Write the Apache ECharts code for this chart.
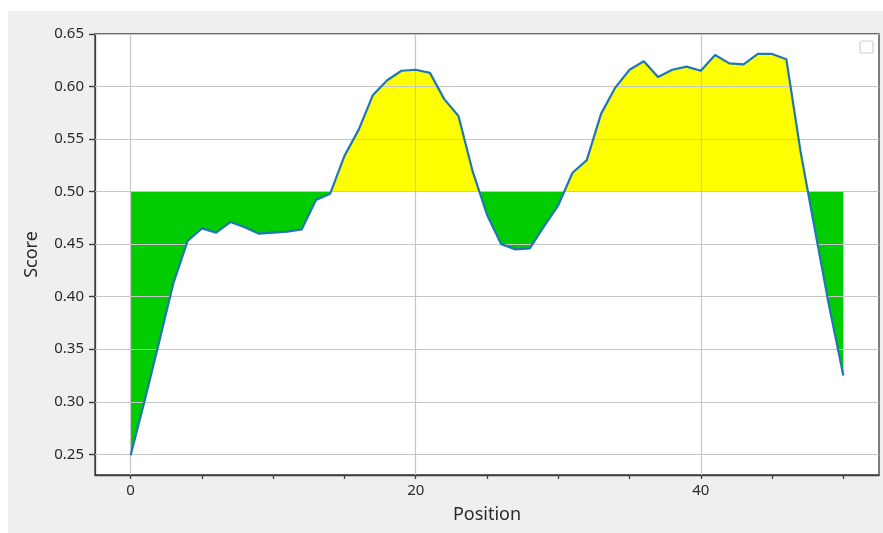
<!DOCTYPE html>
<html>
<head>
<meta charset="utf-8">
<script src="https://cdn.jsdelivr.net/npm/echarts@6/dist/echarts.min.js"></script>
<style>
  html, body { margin: 0; padding: 0; background: #ffffff; }
  #panel { position: absolute; left: 8px; top: 11px; width: 875px; height: 522px; background: #efefef; }
  #chart { position: absolute; left: 0; top: 0; width: 883px; height: 533px; }
</style>
</head>
<body>
<div id="panel"></div>
<div id="chart"></div>
<script>
// Score per sequence position
const positions = [
  0, 1, 2, 3, 4, 5, 6, 7, 8, 9,
  10, 11, 12, 13, 14, 15, 16, 17, 18, 19,
  20, 21, 22, 23, 24, 25, 26, 27, 28, 29,
  30, 31, 32, 33, 34, 35, 36, 37, 38, 39,
  40, 41, 42, 43, 44, 45, 46, 47, 48, 49,
  50
];
const scores = [
  0.249, 0.302, 0.357, 0.413, 0.453, 0.465, 0.461, 0.471, 0.466, 0.460,
  0.461, 0.462, 0.464, 0.492, 0.498, 0.534, 0.559, 0.592, 0.606, 0.615,
  0.616, 0.613, 0.588, 0.572, 0.519, 0.478, 0.450, 0.445, 0.446, 0.467,
  0.487, 0.518, 0.530, 0.574, 0.599, 0.616, 0.624, 0.609, 0.616, 0.619,
  0.615, 0.630, 0.622, 0.621, 0.631, 0.631, 0.626, 0.538, 0.464, 0.391,
  0.325
];
const threshold = 0.5;

// Axis ticks, labels and grid lines
const xTicks = [0, 5, 10, 15, 20, 25, 30, 35, 40, 45, 50];
const xLabels = [0, 20, 40];
const yTicks = [0.25, 0.30, 0.35, 0.40, 0.45, 0.50, 0.55, 0.60, 0.65];
const xMin = -2.5, xMax = 52.5;
const yMin = 0.2303, yMax = 0.65;

const points = positions.map((p, i) => [p, scores[i]]);
const font = "'Noto Sans', 'Open Sans', sans-serif";
const textColor = '#2b2b2b';
const frameColor = '#3d3d3d';
const gridLineStyle = { color: '#c6c6c6', width: 1.2, type: 'solid' };
const ABOVE = '#ffff00';
const BELOW = '#00cc00';

const chart = echarts.init(document.getElementById('chart'), null, { renderer: 'canvas' });
chart.setOption({
  backgroundColor: 'transparent',
  animation: false,
  grid: {
    left: 95, right: 4, top: 34, bottom: 58,
    show: true,
    backgroundColor: '#ffffff',
    borderColor: frameColor,
    borderWidth: 1.3
  },
  xAxis: {
    type: 'value',
    min: xMin,
    max: xMax,
    name: 'Position',
    nameLocation: 'middle',
    nameGap: 29,
    nameTextStyle: { fontFamily: font, fontSize: 18, color: textColor, lineHeight: 22 },
    axisLine: { show: true, onZero: false, lineStyle: { color: frameColor, width: 1.3 } },
    axisTick: { show: true, customValues: xTicks, length: 4, lineStyle: { color: frameColor, width: 1.3 } },
    axisLabel: { customValues: xLabels, margin: 8, fontFamily: font, fontSize: 15, color: textColor,
      formatter: v => String(v) },
    splitLine: { show: false }
  },
  yAxis: {
    type: 'value',
    min: yMin,
    max: yMax,
    name: 'Score',
    nameLocation: 'middle',
    nameGap: 46,
    nameTextStyle: { fontFamily: font, fontSize: 18, color: textColor, lineHeight: 22 },
    axisLine: { show: true, onZero: false, lineStyle: { color: frameColor, width: 1.3 } },
    axisTick: { show: true, customValues: yTicks, length: 6, lineStyle: { color: frameColor, width: 1.4 } },
    axisLabel: { customValues: yTicks, margin: 11, fontFamily: font, fontSize: 15, color: textColor,
      formatter: v => v.toFixed(2) },
    splitLine: { show: false }
  },
  graphic: [{
    type: 'rect',
    shape: { x: 860, y: 41, width: 13, height: 12, r: 2 },
    style: { fill: '#ffffff', stroke: '#d0d0d0', lineWidth: 1.2 },
    z: 10
  }],
  series: [
    {
      // filled region between the score curve and the 0.5 threshold
      type: 'line',
      data: points,
      showSymbol: false,
      z: 2,
      lineStyle: { width: 0, opacity: 0 },
      areaStyle: { origin: threshold, opacity: 1, color: BELOW },
      silent: true
    },
    {
      type: 'line',
      data: points,
      showSymbol: false,
      z: 4,
      color: '#1f77b4',
      lineStyle: { color: '#1f77b4', width: 2.2, join: 'round' },
      silent: true,
      markLine: {
        silent: true,
        z: 3,
        symbol: 'none',
        label: { show: false },
        lineStyle: gridLineStyle,
        data: yTicks.map(v => ({ yAxis: v })).concat(xLabels.map(v => ({ xAxis: v })))
      }
    }
  ]
});

// Split the fill colour at the threshold: yellow above, green below
const yTop = chart.convertToPixel({ yAxisIndex: 0 }, yMax);
const yBottom = chart.convertToPixel({ yAxisIndex: 0 }, yMin);
const yCut = chart.convertToPixel({ yAxisIndex: 0 }, threshold);
const f = (yCut - yTop) / (yBottom - yTop);
chart.setOption({
  series: [{
    areaStyle: {
      color: {
        type: 'linear', global: true,
        x: 0, y: yTop, x2: 0, y2: yBottom,
        colorStops: [
          { offset: 0, color: ABOVE },
          { offset: f, color: ABOVE },
          { offset: f, color: BELOW },
          { offset: 1, color: BELOW }
        ]
      }
    }
  }]
});
</script>
</body>
</html>
